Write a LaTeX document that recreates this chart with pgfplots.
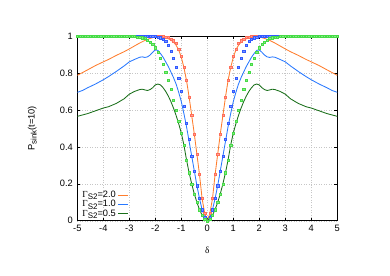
\documentclass[border=0pt]{standalone}
\usepackage{pgfplots}
\pgfplotsset{compat=1.18}
\usepackage{pgfplotstable}
\usepackage{fontspec}
\setmainfont{Liberation Sans}
\newfontfamily\grk{Liberation Serif}
\definecolor{colO}{RGB}{255,125,45}
\definecolor{mrkO}{RGB}{255,110,90}
\definecolor{colB}{RGB}{40,120,255}
\definecolor{mrkB}{RGB}{50,90,255}
\definecolor{colG}{RGB}{25,110,25}
\definecolor{mrkG}{RGB}{70,220,70}
\newcommand{\sub}[1]{\raisebox{-0.45ex}{\fontsize{8}{8}\selectfont #1}}

\pgfplotstableread{
d P
0 0
0.1 0.04
0.2 0.12
0.3 0.25
0.4 0.36
0.5 0.47
0.6 0.57
0.7 0.67
0.8 0.76
0.9 0.83
1.0 0.885
1.1 0.925
1.2 0.95
1.3 0.967
1.4 0.978
1.5 0.985
1.6 0.99
1.8 0.995
2.0 0.995
2.2 0.987
2.4 0.976
2.6 0.962
2.8 0.946
3.0 0.93
3.2 0.915
3.5 0.895
3.8 0.873
4.0 0.86
4.3 0.84
4.6 0.817
4.8 0.802
5.0 0.787
}\tabO

\pgfplotstableread{
d P
0 0
0.1 0.02
0.2 0.06
0.3 0.12
0.4 0.19
0.5 0.27
0.6 0.35
0.7 0.43
0.8 0.51
0.9 0.58
1.0 0.645
1.1 0.695
1.2 0.74
1.3 0.775
1.4 0.805
1.5 0.835
1.6 0.86
1.7 0.885
1.8 0.905
1.9 0.922
2.0 0.925
2.1 0.912
2.2 0.897
2.3 0.887
2.4 0.884
2.5 0.887
2.6 0.885
2.8 0.873
3.0 0.86
3.2 0.838
3.5 0.808
3.8 0.78
4.0 0.763
4.3 0.74
4.6 0.72
4.8 0.705
5.0 0.695
}\tabB

\pgfplotstableread{
d P
0 0
0.1 0.01
0.2 0.03
0.3 0.06
0.4 0.1
0.5 0.145
0.6 0.2
0.7 0.26
0.8 0.33
0.9 0.41
1.0 0.475
1.1 0.525
1.2 0.57
1.3 0.61
1.4 0.645
1.5 0.675
1.6 0.70
1.7 0.72
1.8 0.735
1.9 0.74
2.0 0.735
2.1 0.72
2.2 0.71
2.3 0.705
2.4 0.708
2.5 0.712
2.6 0.71
2.8 0.70
3.0 0.685
3.2 0.66
3.5 0.635
3.8 0.617
4.0 0.61
4.3 0.595
4.6 0.58
5.0 0.565
}\tabG

\pgfplotstableread{
d O B G
0.0 0.0 0.0 0.0
0.1 0.04 0.02 0.01
0.2 0.12 0.06 0.03
0.3 0.25 0.12 0.06
0.4 0.36 0.19 0.1
0.5 0.47 0.27 0.145
0.6 0.57 0.35 0.2
0.7 0.67 0.44 0.26
0.8 0.76 0.53 0.33
0.9 0.83 0.62 0.41
1.0 0.89 0.70 0.475
1.1 0.93 0.77 0.54
1.2 0.96 0.83 0.60
1.3 0.975 0.88 0.655
1.4 0.985 0.92 0.71
1.5 0.992 0.95 0.76
1.6 0.996 0.97 0.805
1.7 0.998 0.983 0.848
1.8 0.999 0.991 0.882
1.9 1 0.995 0.912
2.0 1 0.998 0.937
2.1 1 0.999 0.955
2.2 1 1 0.969
2.3 1 1 0.979
2.4 1 1 0.986
2.5 1 1 0.991
2.6 1 1 0.994
2.7 1 1 0.996
2.8 1 1 0.998
2.9 1 1 0.999
3.0 1 1 1
3.1 1 1 1
3.2 1 1 1
3.3 1 1 1
3.4 1 1 1
3.5 1 1 1
3.6 1 1 1
3.7 1 1 1
3.8 1 1 1
3.9 1 1 1
4.0 1 1 1
4.1 1 1 1
4.2 1 1 1
4.3 1 1 1
4.4 1 1 1
4.5 1 1 1
4.6 1 1 1
4.7 1 1 1
4.8 1 1 1
4.9 1 1 1
5.0 1 1 1
}\tabM

\begin{document}
\begin{tikzpicture}[font=\fontsize{9.3}{10.8}\selectfont]
\begin{axis}[
  at={(0,0)}, anchor=south west,
  scale only axis,
  width=260bp, height=184.7bp,
  xmin=-5, xmax=5, ymin=0, ymax=1,
  xtick={-5,-4,-3,-2,-1,0,1,2,3,4,5},
  xticklabels={-5,-4,-3,-2,-1,0,1,2,3,4,5},
  ytick={0,0.2,0.4,0.6,0.8,1},
  yticklabels={0,0.2,0.4,0.6,0.8,1},
  tick align=inside,
  major tick length=3bp,
  tick style={black, line width=0.5pt},
  axis line style={black, line width=0.8pt},
  grid=major,
  major grid style={gray!45, dash pattern=on 1pt off 1.5pt, line width=0.4pt},
  ticklabel style={font=\fontsize{9.3}{10.8}\selectfont},
  xticklabel style={yshift=-1bp},
  yticklabel style={xshift=-1bp},
  xlabel={{\grk δ}},
  ylabel={P\sub{sink}(t=10)},
  label style={font=\fontsize{9.3}{10.8}\selectfont},
  x label style={at={(axis description cs:0.5,-0.16)}, anchor=center},
  y label style={at={(axis description cs:-0.173,0.5)}, anchor=center},
  legend plot pos=right,
  legend cell align=left,
  legend style={draw=none, fill=none, at={(axis description cs:0.0,0.0)}, anchor=south west,
    font=\fontsize{9.3}{10.8}\selectfont, row sep=0pt, nodes={inner ysep=0.7bp}},
  legend image code/.code={\draw[#1, line width=0.85pt] (0bp,0bp) -- (10bp,0bp);},
]
% orange
\addplot[only marks, mark=square*, mark size=1.05bp, mark options={fill=mrkO!65, draw=mrkO, line width=0.3pt}, forget plot] table[x expr=-\thisrow{d}, y=O] {\tabM};
\addplot[only marks, mark=square*, mark size=1.05bp, mark options={fill=mrkO!65, draw=mrkO, line width=0.3pt}, forget plot] table[x=d, y=O] {\tabM};
\addplot[color=colO, line width=0.85pt, forget plot] table[x expr=-\thisrow{d}, y=P] {\tabO};
\addplot[color=colO, line width=0.85pt] table[x=d, y=P] {\tabO};
\addlegendentry{{\grk Γ}\sub{S2}=2.0}
% blue
\addplot[only marks, mark=square*, mark size=1.05bp, mark options={fill=mrkB!65, draw=mrkB, line width=0.3pt}, forget plot] table[x expr=-\thisrow{d}, y=B] {\tabM};
\addplot[only marks, mark=square*, mark size=1.05bp, mark options={fill=mrkB!65, draw=mrkB, line width=0.3pt}, forget plot] table[x=d, y=B] {\tabM};
\addplot[color=colB, line width=0.85pt, forget plot] table[x expr=-\thisrow{d}, y=P] {\tabB};
\addplot[color=colB, line width=0.85pt] table[x=d, y=P] {\tabB};
\addlegendentry{{\grk Γ}\sub{S2}=1.0}
% green
\addplot[only marks, mark=square*, mark size=1.05bp, mark options={fill=mrkG!65, draw=mrkG, line width=0.3pt}, forget plot] table[x expr=-\thisrow{d}, y=G] {\tabM};
\addplot[only marks, mark=square*, mark size=1.05bp, mark options={fill=mrkG!65, draw=mrkG, line width=0.3pt}, forget plot] table[x=d, y=G] {\tabM};
\addplot[color=colG, line width=0.85pt, forget plot] table[x expr=-\thisrow{d}, y=P] {\tabG};
\addplot[color=colG, line width=0.85pt] table[x=d, y=P] {\tabG};
\addlegendentry{{\grk Γ}\sub{S2}=0.5}
\end{axis}
\path[use as bounding box] (-77.3bp,-55.3bp) rectangle (312.7bp,220.7bp);
\end{tikzpicture}
\end{document}
